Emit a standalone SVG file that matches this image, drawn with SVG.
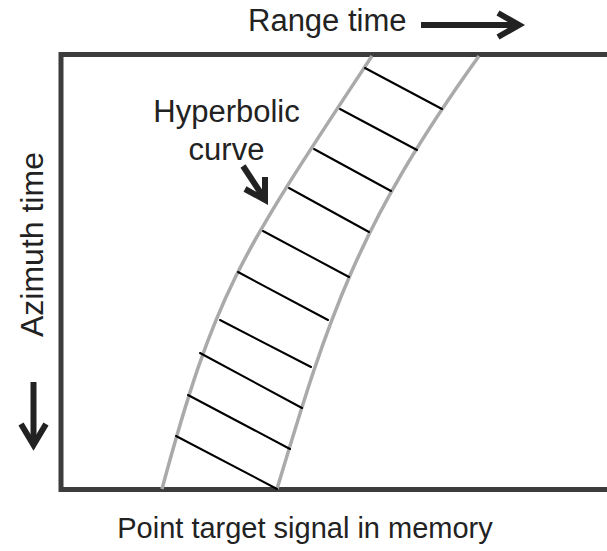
<svg xmlns="http://www.w3.org/2000/svg" width="607" height="551" viewBox="0 0 607 551">
  <style>
    .label { font-family: "Liberation Sans", Arial, Helvetica, sans-serif; font-size: 31px; fill: #222222; }
    .frame { fill: none; stroke: #3c3c3c; stroke-width: 5; stroke-linejoin: miter; }
    .edge { fill: none; stroke: #aaaaaa; stroke-width: 3.5; stroke-linecap: butt; }
    .hatch { stroke: #000000; stroke-width: 2; stroke-linecap: round; }
    .arrow { fill: none; stroke: #222222; stroke-width: 6; stroke-linecap: butt; stroke-linejoin: miter; }
  </style>
  <rect width="607" height="551" fill="#ffffff"/>

  <!-- memory frame: open on the right -->
  <g id="frame">
    <path class="frame" d="M607,54.5 H61 V489.5 H607"/>
  </g>

  <!-- hyperbolic band of the point target -->
  <g id="band">
    <path class="edge" d="M372,56 C240,256 216,289 162,489"/>
    <path class="edge" d="M479,56 C356.6,226 328,319 277,489"/>
    <line class="hatch" x1="365" y1="68" x2="442" y2="109"/>
    <line class="hatch" x1="340" y1="109" x2="417" y2="150"/>
    <line class="hatch" x1="314" y1="149" x2="391" y2="191"/>
    <line class="hatch" x1="289" y1="188" x2="369" y2="232"/>
    <line class="hatch" x1="263" y1="231" x2="349" y2="277"/>
    <line class="hatch" x1="238" y1="272" x2="328" y2="320"/>
    <line class="hatch" x1="220" y1="320" x2="311" y2="367"/>
    <line class="hatch" x1="200" y1="353" x2="302" y2="408"/>
    <line class="hatch" x1="188" y1="395" x2="290" y2="449"/>
    <line class="hatch" x1="176" y1="436" x2="277" y2="489"/>
  </g>

  <!-- axis and callout arrows -->
  <g id="connectors">
    <path class="arrow" d="M421,25 H516"/>
    <path class="arrow" d="M498,13 L519,25 L498,37"/>
    <path class="arrow" d="M33.5,382 V442"/>
    <path class="arrow" d="M21,424 L33.5,445 L46,424"/>
    <path class="arrow" d="M243,166 L264,198"/>
    <path class="arrow" d="M245,189 L265,200 L265,177"/>
  </g>

  <g id="range-label">
    <text class="label" x="248" y="31">Range time</text>
  </g>
  <g id="azimuth-label">
    <text class="label" style="font-size:32px" transform="translate(42.5,337) rotate(-90)">Azimuth time</text>
  </g>
  <g id="curve-label">
    <text class="label" text-anchor="middle" x="226.5" y="122">Hyperbolic</text>
    <text class="label" text-anchor="middle" x="226.5" y="159.5">curve</text>
  </g>
  <g id="caption">
    <text class="label" style="font-size:29px" text-anchor="middle" x="305" y="538">Point target signal in memory</text>
  </g>
</svg>
